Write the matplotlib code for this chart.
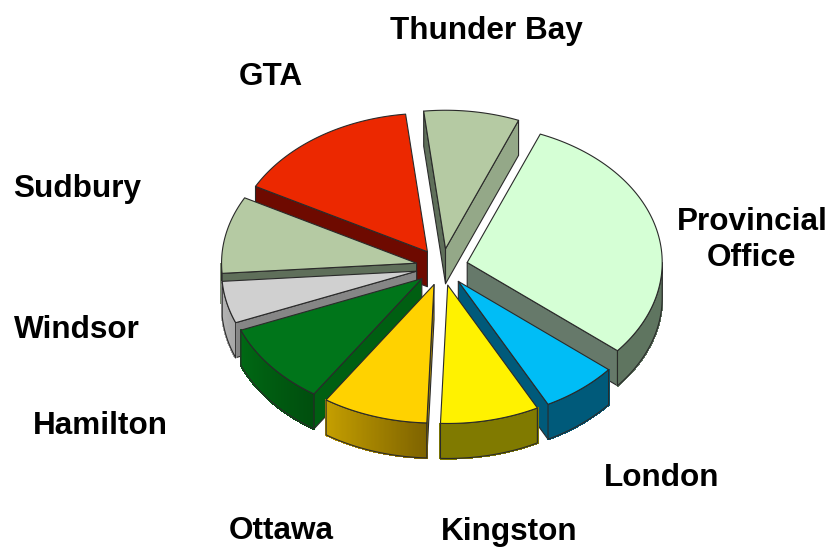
import numpy as np
import matplotlib
matplotlib.use("Agg")
import matplotlib.pyplot as plt
from matplotlib.patches import Polygon
from matplotlib.colors import to_rgb

# Data (estimated shares, clockwise from the start angle)
labels = ["Provincial\nOffice", "London", "Kingston", "Ottawa", "Hamilton",
          "Windsor", "Sudbury", "GTA", "Thunder Bay"]
values = [29.9, 6.4, 8.2, 8.75, 9.6, 4.9, 9.0, 15.4, 7.9]

top_colors = ["#D5FFD5", "#00BDF6", "#FFF200", "#FFD200", "#00751A",
              "#D0D0D0", "#B5CAA3", "#EC2800", "#B5CAA3"]
# wall colours: outer-wall left/right ends, first cut, last cut
outer_l = ["#5F7560", "#005A7A", "#807A00", "#C6A000", "#006A14",
           "#B8B8B8", "#7F8F75", "#7A0C00", "#8FA285"]
outer_r = ["#5F7560", "#005A7A", "#807A00", "#7F6400", "#004F0E",
           "#A8A8A8", "#7F8F75", "#7A0C00", "#8FA285"]
cut_a = ["#66796A", "#005A7A", "#807A00", "#B89400", "#005F12",
         "#868686", "#5F6F5A", "#6E0A00", "#5F6F5A"]
cut_b = ["#66796A", "#005A7A", "#807A00", "#B89400", "#005F12",
         "#868686", "#5F6F5A", "#6E0A00", "#94A888"]

label_xy = [(752, 240), (662, 478), (509, 532), (281, 531), (100, 426),
            (77, 330), (77, 189), (271, 77), (486, 31)]

# Layout
W, H = 831, 548
CX, CY, R, SQUASH, DEPTH, EXPLODE = 442, 267, 195, 0.71, 35, 26
START = 22.0
EDGE = "#2A2A2A"
LW = 0.8

fig = plt.figure(figsize=(W / 100, H / 100), dpi=100)
ax = fig.add_axes([0, 0, 1, 1])
ax.set_xlim(0, W)
ax.set_ylim(H, 0)
ax.axis("off")

angles = START + np.concatenate([[0], np.cumsum(values)]) * 360.0 / np.sum(values)


def project(radius, deg, ox, oy):
    t = np.radians(deg)
    return ox + radius * np.sin(t), oy - SQUASH * radius * np.cos(t)


def poly(pts, face, edge=EDGE, z=1):
    ax.add_patch(Polygon(pts, closed=True, facecolor=face, edgecolor=edge,
                         linewidth=LW, zorder=z, joinstyle="round"))


def draw_wedge(i, z):
    a1, a2 = angles[i], angles[i + 1]
    mid = np.radians((a1 + a2) / 2)
    ox = CX + EXPLODE * np.sin(mid)
    oy = CY - SQUASH * EXPLODE * np.cos(mid)
    theta = np.linspace(a1, a2, 80)
    xs, ys = project(R, theta, ox, oy)

    # cut faces, drawn when their outward normal faces the viewer
    if np.cos(np.radians(a1 - 90)) < 0:
        x, y = project(R, a1, ox, oy)
        poly([(ox, oy), (x, y), (x, y + DEPTH), (ox, oy + DEPTH)], cut_a[i], z=z)
    if np.cos(np.radians(a2 + 90)) < 0:
        x, y = project(R, a2, ox, oy)
        poly([(ox, oy), (x, y), (x, y + DEPTH), (ox, oy + DEPTH)], cut_b[i], z=z)

    # outer wall on the near half of the rim, as shaded strips
    mask = np.cos(np.radians(theta)) < 0
    if mask.any():
        tx, ty = xs[mask], ys[mask]
        order = np.argsort(tx)
        tx, ty = tx[order], ty[order]
        c0, c1 = np.array(to_rgb(outer_l[i])), np.array(to_rgb(outer_r[i]))
        for k in range(len(tx) - 1):
            f = k / max(len(tx) - 2, 1)
            col = tuple(c0 + (c1 - c0) * f)
            ax.add_patch(Polygon([(tx[k], ty[k]), (tx[k + 1], ty[k + 1]),
                                  (tx[k + 1], ty[k + 1] + DEPTH), (tx[k], ty[k] + DEPTH)],
                                 closed=True, facecolor=col, edgecolor=col,
                                 linewidth=1.0, antialiased=False, zorder=z))
        outline = list(zip(tx, ty)) + list(zip(tx[::-1], ty[::-1] + DEPTH))
        ax.add_patch(Polygon(outline, closed=True, fill=False, edgecolor=EDGE,
                             linewidth=LW, zorder=z))

    # top face
    poly([(ox, oy)] + list(zip(xs, ys)), top_colors[i], z=z + 0.5)


# painter's order: far slices first
depth_order = sorted(range(len(values)),
                     key=lambda i: np.cos(np.radians((angles[i] + angles[i + 1]) / 2)),
                     reverse=True)
for rank, i in enumerate(depth_order):
    draw_wedge(i, 2 + rank)

for text, (x, y) in zip(labels, label_xy):
    ax.text(x, y, text, ha="center", va="center", fontsize=22.7, fontweight="bold",
            family="Liberation Sans", color="black", linespacing=1.24, zorder=50)

fig.savefig("out.png", dpi=100)
